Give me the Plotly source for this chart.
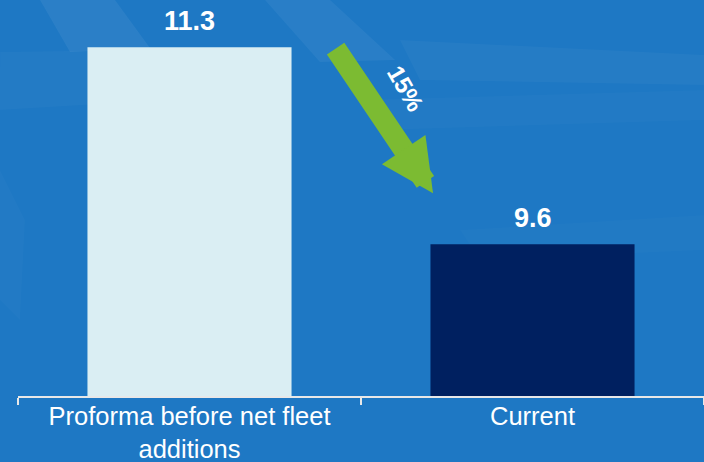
import plotly.graph_objects as go

# ---- data ----
categories = ["Proforma before net fleet<br>additions", "Current"]
values = [11.3, 9.6]
bar_colors = ["#DAEEF3", "#002060"]
value_labels = ["11.3", "9.6"]
change_pct = round((values[0] - values[1]) / values[0] * 100)

# ---- layout geometry ----
W, H = 704, 462
ML, MR, MT, MB = 18, 0, 0, 66
PW, PH = W - ML - MR, H - MT - MB
y_range = [8.29, 11.707]
FONT = "Arial, Liberation Sans, sans-serif"
BG = "#1E78C4"


def px_path(points):
    """Convert decorative background polygon (pixels) into paper coords path."""
    segs = []
    for i, (px, py) in enumerate(points):
        xp = (px - ML) / PW
        yp = (H - MB - py) / PH
        segs.append(("M" if i == 0 else "L") + f"{xp:.4f},{yp:.4f}")
    return " ".join(segs) + " Z"


streaks = [
    ([(40, 0), (115, 0), (150, 48), (70, 52)], 0.06),
    ([(265, 0), (330, 0), (395, 60), (320, 62)], 0.05),
    ([(0, 52), (260, 48), (250, 95), (0, 110)], 0.025),
    ([(400, 40), (704, 55), (704, 85), (420, 80)], 0.03),
    ([(360, 100), (704, 90), (704, 120), (380, 130)], 0.02),
    ([(0, 170), (25, 220), (20, 320), (0, 300)], 0.02),
    ([(460, 230), (704, 215), (704, 250), (480, 260)], 0.015),
]

shapes = []
for pts, op in streaks:
    shapes.append(dict(type="path", xref="paper", yref="paper", path=px_path(pts),
                       fillcolor=f"rgba(255,255,255,{op})", line=dict(width=0),
                       layer="below"))

fig = go.Figure()
fig.add_trace(go.Bar(
    x=categories, y=values, marker=dict(color=bar_colors, line=dict(width=0)),
    width=0.595, hoverinfo="skip", showlegend=False,
))

annotations = []
for c, v, lab in zip(categories, values, value_labels):
    annotations.append(dict(x=c, y=v, xref="x", yref="y", text=f"<b>{lab}</b>",
                            showarrow=False, yanchor="bottom", yshift=9,
                            font=dict(family=FONT, size=27, color="white")))

# drop arrow between the bars
tail_x, tail_y = 0.423, values[0]
tip_x, tip_y = 0.71, values[1] + 0.44
annotations.append(dict(
    x=tip_x, y=tip_y, xref="x", yref="y", ax=tail_x, ay=tail_y, axref="x", ayref="y",
    text="", showarrow=True, arrowhead=2, arrowsize=0.5, arrowwidth=21,
    arrowcolor="#7CBB32", standoff=0, startstandoff=0,
))
annotations.append(dict(
    x=(tail_x + tip_x) / 2, y=(tail_y + tip_y) / 2, xref="x", yref="y",
    text=f"<b>{change_pct}%</b>", showarrow=False, textangle=60,
    xshift=22, yshift=32,
    font=dict(family=FONT, size=24, color="white"),
))

fig.update_layout(
    width=W, height=H, autosize=False,
    margin=dict(l=ML, r=MR, t=MT, b=MB, pad=0, autoexpand=False),
    paper_bgcolor=BG, plot_bgcolor="rgba(0,0,0,0)",
    shapes=shapes, annotations=annotations,
    xaxis=dict(type="category", showline=True, linecolor="#E8E8E8", linewidth=2,
               ticks="outside", tickson="boundaries", ticklen=7, tickwidth=2,
               tickcolor="#E8E8E8", showgrid=False, zeroline=False,
               automargin=False, ticklabelstandoff=-4,
               tickfont=dict(family=FONT, size=25.5, color="white"),
               fixedrange=True),
    yaxis=dict(range=y_range, visible=False, showgrid=False, zeroline=False,
               automargin=False, fixedrange=True),
    bargap=0.4,
)

fig.write_html("out.html", config={"displayModeBar": False})
